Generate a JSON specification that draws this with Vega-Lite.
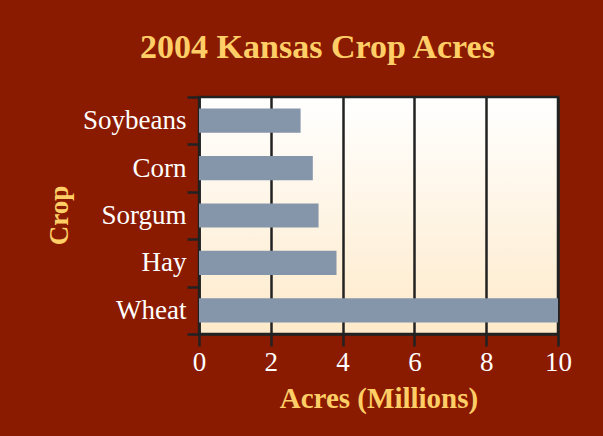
{
  "$schema": "https://vega.github.io/schema/vega-lite/v6.json",
  "width": 359,
  "height": 237,
  "autosize": {"type": "none"},
  "padding": {"left": 199, "top": 97, "right": 45, "bottom": 102},
  "background": "#8B1B00",
  "title": {
    "text": "2004 Kansas Crop Acres",
    "font": "Liberation Serif",
    "fontSize": 34,
    "fontWeight": "bold",
    "color": "#FFCE66",
    "anchor": "middle",
    "frame": "group",
    "dx": -61,
    "offset": 18
  },
  "data": {
    "values": [
      {"crop": "Soybeans", "acres": 2.83},
      {"crop": "Corn", "acres": 3.17},
      {"crop": "Sorgum", "acres": 3.33},
      {"crop": "Hay", "acres": 3.83},
      {"crop": "Wheat", "acres": 10}
    ]
  },
  "mark": {"type": "bar", "color": "#8595AA", "height": {"band": 0.51}},
  "encoding": {
    "y": {
      "field": "crop",
      "type": "nominal",
      "sort": ["Soybeans", "Corn", "Sorgum", "Hay", "Wheat"],
      "scale": {"paddingInner": 0, "paddingOuter": 0},
      "title": "Crop",
      "axis": {
        "tickBand": "extent",
        "tickSize": 12,
        "tickWidth": 2.5,
        "tickColor": "#222222",
        "domainColor": "#222222",
        "domainWidth": 2.5,
        "labelFont": "Liberation Serif",
        "labelFontSize": 27,
        "labelColor": "#FFFFFF",
        "labelPadding": 1,
        "titleFont": "Liberation Serif",
        "titleFontSize": 27,
        "titleFontWeight": "bold",
        "titleColor": "#FFCE66",
        "titleX": -140,
        "titleY": 118,
        "titleBaseline": "middle",
        "titleAngle": -90
      }
    },
    "x": {
      "field": "acres",
      "type": "quantitative",
      "scale": {"domain": [0, 10], "nice": false},
      "title": "Acres (Millions)",
      "axis": {
        "values": [0, 2, 4, 6, 8, 10],
        "grid": true,
        "gridColor": "#222222",
        "gridWidth": 2.5,
        "gridOpacity": 1,
        "tickSize": 12,
        "tickWidth": 2.5,
        "tickColor": "#222222",
        "domainColor": "#222222",
        "domainWidth": 2.5,
        "labelFont": "Liberation Serif",
        "labelFontSize": 27,
        "labelColor": "#FFFFFF",
        "labelPadding": 3,
        "labelFlush": false,
        "titleFont": "Liberation Serif",
        "titleFontSize": 29,
        "titleFontWeight": "bold",
        "titleColor": "#FFCE66",
        "titleY": 73,
        "titleBaseline": "alphabetic"
      }
    }
  },
  "config": {
    "view": {
      "fill": {
        "gradient": "linear",
        "x1": 0, "y1": 0, "x2": 0, "y2": 1,
        "stops": [
          {"offset": 0, "color": "#FFFFFF"},
          {"offset": 1, "color": "#FEEACA"}
        ]
      },
      "stroke": "#222222",
      "strokeWidth": 2.5
    }
  }
}
